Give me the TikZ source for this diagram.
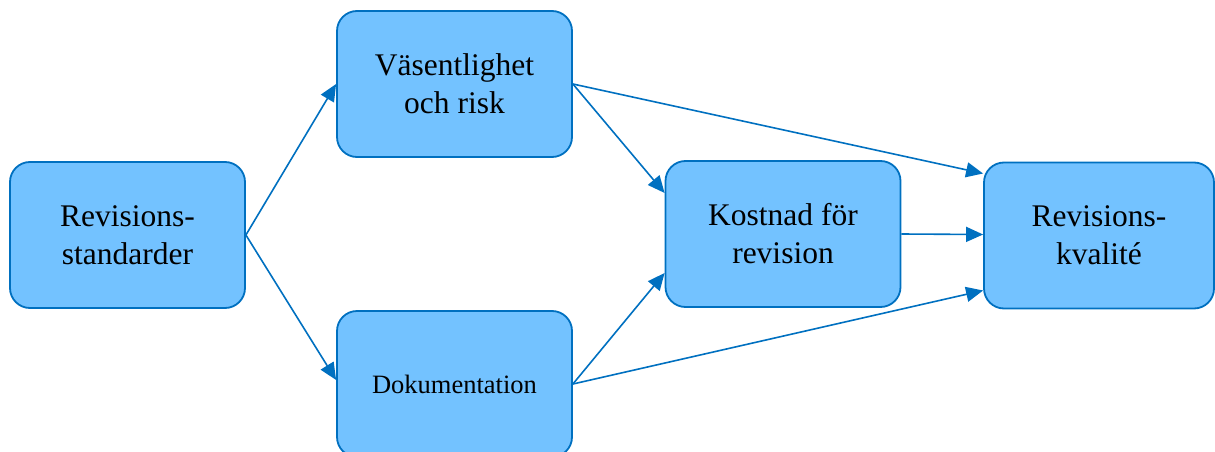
\documentclass[tikz,border=0pt]{standalone}
\usepackage{fontspec}
\setmainfont{Liberation Serif}
\usetikzlibrary{arrows.meta,calc}
\definecolor{boxfill}{RGB}{115,194,255}
\definecolor{boxline}{RGB}{0,112,192}
\begin{document}
\begin{tikzpicture}[x=1pt,y=-1pt,
  blk/.style={draw=boxline,fill=boxfill,line width=1.8pt,rounded corners=20pt,
    minimum width=235pt,minimum height=146pt,inner sep=0pt,align=center,
    font=\fontsize{31.5}{38}\selectfont},
  conn/.style={draw=boxline,line width=1.6pt,-{Triangle[length=17pt,width=15pt]}}]
\useasboundingbox (0,0) rectangle (1215,452);
\clip (0,0) rectangle (1215,452);
\node[blk] (std) at (127.5,235) {Revisions-\\standarder};
\node[blk] (vas) at (454.5,84) {Väsentlighet\\och risk};
\node[blk,font=\fontsize{26.5}{32}\selectfont] (dok) at (454.5,384) {Dokumentation};
\node[blk] (kost) at (783,234) {Kostnad för\\revision};
\node[blk,minimum width=230pt] (kval) at (1099,235.5) {Revisions-\\kvalité};
\draw[conn] (std.east) -- (vas.west);
\draw[conn] (std.east) -- ($(dok.west)+(0,-4)$);
\draw[conn] (vas.east) -- ($(kost.west)+(0,-41)$);
\draw[conn] (vas.east) -- ($(kval.west)+(0,-62)$);
\draw[conn] (dok.east) -- ($(kost.west)+(0,39)$);
\draw[conn] (dok.east) -- ($(kval.west)+(0,55)$);
\draw[conn] (kost.east) -- ($(kval.west)+(0,-1)$);
\end{tikzpicture}
\end{document}
